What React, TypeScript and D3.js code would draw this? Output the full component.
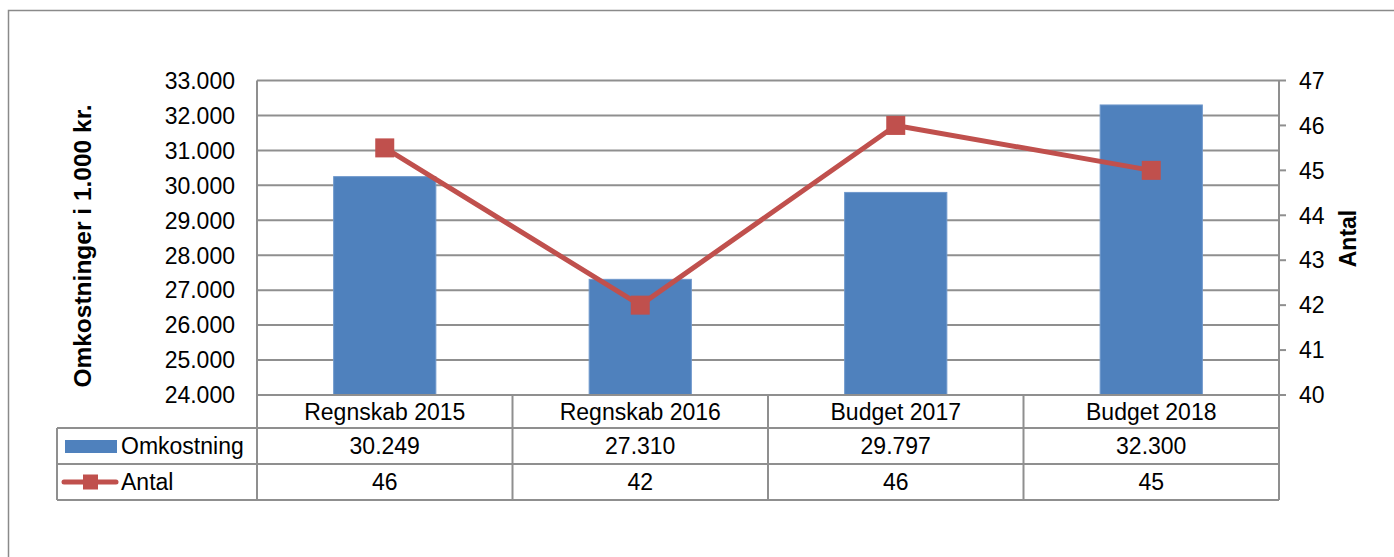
import React from "react";
import * as d3 from "d3";

const categories = ["Regnskab 2015", "Regnskab 2016", "Budget 2017", "Budget 2018"];
const omkostning = [30249, 27310, 29797, 32300];
const antal = [45.5, 42, 46, 45];
const antalLabels = ["46", "42", "46", "45"];
const leftTicks = [24000, 25000, 26000, 27000, 28000, 29000, 30000, 31000, 32000, 33000];
const rightTicks = [40, 41, 42, 43, 44, 45, 46, 47];

const W = 1394;
const H = 557;
const plotL = 257;
const plotR = 1279;
const plotT = 80.5;
const plotB = 395;
const rowH = [395, 428, 464, 500];
const tableL = 57;
const FONT = "'Liberation Sans', Arial, sans-serif";
const FS = 23;
const GRID = "#8f8f8f";
const BLUE = "#4F81BD";
const RED = "#C0504D";

const fmt = (v: number) => {
  const s = d3.format(",")(v);
  return s.replace(/,/g, ".");
};

export default function App() {
  const x = d3.scaleBand<string>().domain(categories).range([plotL, plotR]).paddingInner(0).paddingOuter(0);
  const yL = d3.scaleLinear().domain([24000, 33000]).range([plotB, plotT]);
  const yR = d3.scaleLinear().domain([40, 47]).range([plotB, plotT]);
  const bw = x.bandwidth();
  const barW = bw * 0.4;
  const line = d3
    .line<number>()
    .x((_, i) => (x(categories[i]) as number) + bw / 2)
    .y((d) => yR(d));
  const mk = 19;

  return (
    <svg
      width={W}
      height={H}
      style={{ position: "absolute", left: 0, top: 0, background: "#fff" }}
      fontFamily={FONT}
    >
      <rect x={8.5} y={10.5} width={1500} height={700} fill="#fff" stroke="#8a8a8a" strokeWidth={1.5} />

      {/* gridlines */}
      {leftTicks.map((t) => (
        <line key={"g" + t} x1={plotL} x2={plotR} y1={yL(t)} y2={yL(t)} stroke={GRID} strokeWidth={2} />
      ))}

      {/* bars */}
      {omkostning.map((v, i) => {
        const cx = (x(categories[i]) as number) + bw / 2;
        return (
          <rect
            key={"b" + i}
            x={cx - barW / 2}
            y={yL(v)}
            width={barW}
            height={plotB - yL(v)}
            fill={BLUE}
            stroke="#6f98cc"
            strokeWidth={1}
          />
        );
      })}

      {/* left axis line */}
      <line x1={plotL} x2={plotL} y1={plotT} y2={rowH[3]} stroke={GRID} strokeWidth={2} />
      {/* right axis line */}
      <line x1={plotR} x2={plotR} y1={plotT} y2={rowH[3]} stroke={GRID} strokeWidth={2} />
      {rightTicks.map((t) => (
        <line key={"rt" + t} x1={plotR} x2={plotR + 7} y1={yR(t)} y2={yR(t)} stroke={GRID} strokeWidth={2} />
      ))}

      {/* line series */}
      <path d={line(antal) as string} fill="none" stroke={RED} strokeWidth={5} strokeLinejoin="round" />
      {antal.map((v, i) => {
        const cx = (x(categories[i]) as number) + bw / 2;
        return <rect key={"m" + i} x={cx - mk / 2} y={yR(v) - mk / 2} width={mk} height={mk} fill={RED} />;
      })}

      {/* left tick labels */}
      {leftTicks.map((t) => (
        <text key={"lt" + t} x={235} y={yL(t)} dy="0.36em" textAnchor="end" fontSize={FS} fill="#000">
          {fmt(t)}
        </text>
      ))}
      {/* right tick labels */}
      {rightTicks.map((t) => (
        <text key={"rl" + t} x={1299} y={yR(t)} dy="0.36em" textAnchor="start" fontSize={FS} fill="#000">
          {t}
        </text>
      ))}

      {/* axis titles */}
      <text
        transform={`translate(91,246) rotate(-90)`}
        textAnchor="middle"
        fontSize={24.5}
        fontWeight="bold"
        fill="#000"
      >
        Omkostninger i 1.000 kr.
      </text>
      <text
        transform={`translate(1356,238.5) rotate(-90)`}
        textAnchor="middle"
        fontSize={FS}
        fontWeight="bold"
        fill="#000"
      >
        Antal
      </text>

      {/* data table */}
      <line x1={plotL} x2={plotR + 7} y1={rowH[0]} y2={rowH[0]} stroke={GRID} strokeWidth={2} />
      {[1, 2, 3].map((r) => (
        <line key={"hr" + r} x1={tableL} x2={plotR} y1={rowH[r]} y2={rowH[r]} stroke={GRID} strokeWidth={2} />
      ))}
      <line x1={tableL} x2={tableL} y1={rowH[1]} y2={rowH[3]} stroke={GRID} strokeWidth={2} />
      {categories.slice(1).map((c) => (
        <line
          key={"vc" + c}
          x1={x(c) as number}
          x2={x(c) as number}
          y1={rowH[0]}
          y2={rowH[3]}
          stroke={GRID}
          strokeWidth={2}
        />
      ))}
      {categories.map((c, i) => {
        const cx = (x(c) as number) + bw / 2;
        return (
          <g key={"tc" + c}>
            <text x={cx} y={(rowH[0] + rowH[1]) / 2} dy="0.36em" textAnchor="middle" fontSize={FS} fill="#000">
              {c}
            </text>
            <text x={cx} y={(rowH[1] + rowH[2]) / 2} dy="0.36em" textAnchor="middle" fontSize={FS} fill="#000">
              {fmt(omkostning[i])}
            </text>
            <text x={cx} y={(rowH[2] + rowH[3]) / 2} dy="0.36em" textAnchor="middle" fontSize={FS} fill="#000">
              {antalLabels[i]}
            </text>
          </g>
        );
      })}

      {/* legend keys */}
      <rect x={65} y={440} width={52} height={13} fill={BLUE} />
      <text x={121} y={(rowH[1] + rowH[2]) / 2} dy="0.36em" fontSize={FS} fill="#000">
        Omkostning
      </text>
      <line x1={64} x2={116} y1={482} y2={482} stroke={RED} strokeWidth={5} strokeLinecap="round" />
      <rect x={83} y={474.5} width={15} height={15} fill={RED} />
      <text x={121} y={(rowH[2] + rowH[3]) / 2} dy="0.36em" fontSize={FS} fill="#000">
        Antal
      </text>
    </svg>
  );
}
